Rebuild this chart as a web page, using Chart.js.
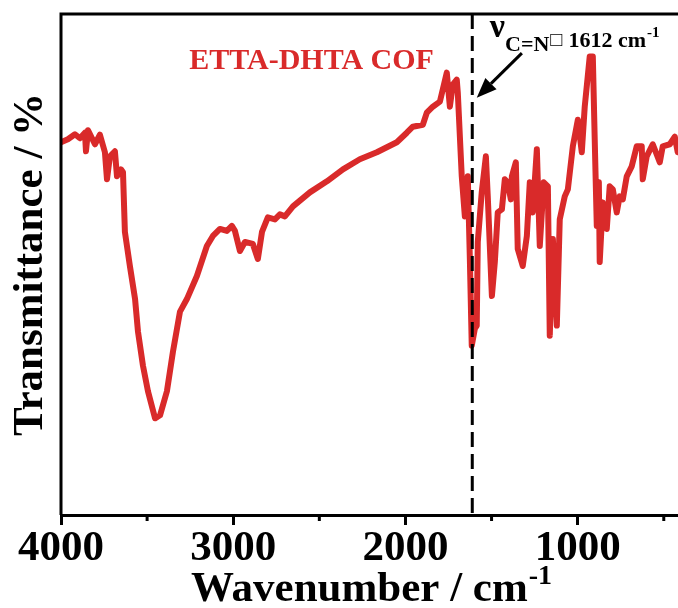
<!DOCTYPE html>
<html>
<head>
<meta charset="utf-8">
<script src="https://cdn.jsdelivr.net/npm/chart.js@4/dist/chart.umd.min.js"></script>
<style>
  html, body { margin: 0; padding: 0; background: #fff; overflow: hidden; }
  #wrap { width: 700px; height: 608px; }
</style>
</head>
<body>
<div id="wrap"><canvas id="ftir" width="700" height="608"></canvas></div>
<script>
// FTIR spectrum of ETTA-DHTA COF (arbitrary transmittance units)
const WAVENUMBER = [
    4000, 3960, 3919, 3890, 3861, 3855, 3843, 3803, 3774, 3745, 3733, 3716,
    3687, 3675, 3652, 3640, 3629, 3600, 3570, 3553, 3524, 3495,
    3454, 3425, 3385, 3350, 3309, 3269, 3211, 3153, 3118, 3077,
    3037, 3008, 2990, 2961, 2932, 2886, 2857, 2833, 2799, 2758,
    2729, 2700, 2653, 2555, 2456, 2363, 2265, 2166, 2050, 1992,
    1957, 1899, 1876, 1841, 1800, 1760, 1742, 1725, 1702, 1696,
    1673, 1655, 1638, 1626, 1615, 1597, 1586, 1580, 1557, 1533,
    1522, 1498, 1481, 1464, 1440, 1423, 1406, 1388, 1382, 1359,
    1348, 1319, 1295, 1278, 1261, 1237, 1220, 1197, 1173, 1162,
    1144, 1121, 1104, 1075, 1057, 1028, 999, 976, 959, 930,
    912, 901, 889, 877, 872, 854, 831, 814, 796, 773,
    756, 738, 715, 686, 657, 628, 622, 599, 564, 523,
    506, 465, 436, 419, 400
];
const TRANSMITTANCE = [
    74.4, 75.0, 76.0, 75.2, 76.3, 72.6, 76.8, 74.0, 75.9, 72.4, 67.0, 71.6,
    72.6, 67.6, 69.0, 68.4, 56.5, 49.7, 43.1, 36.6, 29.8, 24.7,
    19.3, 19.9, 24.7, 32.6, 40.6, 43.1, 47.7, 53.7, 55.7, 57.1,
    56.7, 57.7, 56.7, 52.7, 54.5, 54.1, 51.1, 56.5, 59.4, 59.0,
    60.0, 59.6, 61.6, 64.4, 66.6, 69.0, 71.0, 72.4, 74.4, 76.3,
    77.5, 77.9, 80.3, 81.5, 82.5, 88.3, 81.5, 85.9, 86.9, 84.3,
    67.6, 59.6, 67.6, 51.1, 33.8, 37.2, 37.8, 54.5, 64.4, 71.6,
    63.6, 43.7, 50.5, 60.4, 61.0, 67.0, 66.4, 63.0, 67.6, 70.4,
    53.1, 49.7, 55.7, 66.4, 60.4, 73.0, 53.7, 66.4, 65.6, 35.8,
    55.1, 37.8, 59.0, 63.6, 65.0, 73.6, 78.9, 72.4, 81.5, 91.5,
    91.5, 75.0, 57.7, 66.4, 50.5, 62.4, 57.1, 65.6, 65.0, 60.4,
    63.6, 63.0, 67.6, 69.6, 73.6, 73.6, 67.0, 71.6, 74.0, 70.4,
    73.6, 74.0, 75.5, 72.4, 74.0
];
const MAJOR_TICKS = [4000, 3000, 2000, 1000];
const MINOR_TICKS = [3500, 2500, 1500, 500];
const CN_PEAK = 1612;

const RED = '#d92a2a';
const SERIF = "'Liberation Serif', 'Times New Roman', serif";

const points = WAVENUMBER.map((wn, i) => ({ x: wn, y: TRANSMITTANCE[i] }));

// frame, minor ticks, x title, C=N marker and text labels
const decorations = {
    id: 'decorations',
    afterDatasetsDraw(chart) {
        const { ctx, chartArea: area, scales: { x, y } } = chart;
        ctx.save();

        // left and top frame lines
        ctx.strokeStyle = '#000';
        ctx.lineWidth = 3;
        ctx.beginPath();
        ctx.moveTo(area.left, area.bottom);
        ctx.lineTo(area.left, area.top);
        ctx.lineTo(area.right + 5, area.top);
        ctx.stroke();

        // minor ticks on the bottom axis
        MINOR_TICKS.forEach(v => {
            const px = x.getPixelForValue(v);
            ctx.beginPath();
            ctx.moveTo(px, area.bottom);
            ctx.lineTo(px, area.bottom + 6);
            ctx.stroke();
        });

        // dashed line at the C=N stretch
        const peakX = x.getPixelForValue(CN_PEAK);
        ctx.setLineDash([15, 7]);
        ctx.beginPath();
        ctx.moveTo(peakX, area.top);
        ctx.lineTo(peakX, area.bottom);
        ctx.stroke();
        ctx.setLineDash([]);

        // x axis title with superscript unit
        ctx.fillStyle = '#000';
        ctx.textAlign = 'left';
        ctx.textBaseline = 'alphabetic';
        ctx.font = `bold 43px ${SERIF}`;
        const main = 'Wavenumber / cm';
        const mainW = ctx.measureText(main).width;
        ctx.font = `bold 28px ${SERIF}`;
        const supW = ctx.measureText('-1').width;
        const sx = (x.getPixelForValue(4000) + x.getPixelForValue(400)) / 2 - (mainW + supW) / 2;
        ctx.font = `bold 43px ${SERIF}`;
        ctx.fillText(main, sx, 601);
        ctx.font = `bold 28px ${SERIF}`;
        ctx.fillText('-1', sx + mainW + 1, 584);

        // sample label
        ctx.fillStyle = RED;
        ctx.font = `bold 30px ${SERIF}`;
        ctx.textAlign = 'center';
        ctx.fillText('ETTA-DHTA COF', x.getPixelForValue(2545), y.getPixelForValue(89));

        // peak label: ν with C=N subscript, then the wavenumber
        ctx.fillStyle = '#000';
        ctx.textAlign = 'left';
        let tx = x.getPixelForValue(1510);
        const base = y.getPixelForValue(95.5);
        ctx.font = `bold 34px ${SERIF}`;
        ctx.fillText('ν', tx, base);
        tx += ctx.measureText('ν').width;
        ctx.font = `bold 22px ${SERIF}`;
        ctx.fillText('C=N', tx, base + 14);
        tx += ctx.measureText('C=N').width + 1;
        ctx.font = `20px ${SERIF}`;
        ctx.fillText('□', tx, base + 9);
        tx += ctx.measureText('□').width + 6;
        ctx.font = `bold 22px ${SERIF}`;
        ctx.fillText('1612 cm', tx, base + 10);
        tx += ctx.measureText('1612 cm').width + 1;
        ctx.font = `bold 15px ${SERIF}`;
        ctx.fillText('-1', tx, base);

        // arrow pointing at the dashed line
        const x0 = x.getPixelForValue(1324), y0 = y.getPixelForValue(92.2);
        const x1 = x.getPixelForValue(1586), y1 = y.getPixelForValue(83.3);
        const ang = Math.atan2(y1 - y0, x1 - x0);
        const head = 20, half = 8;
        const bx = x1 - head * Math.cos(ang), by = y1 - head * Math.sin(ang);
        ctx.lineWidth = 3;
        ctx.beginPath();
        ctx.moveTo(x0, y0);
        ctx.lineTo(bx, by);
        ctx.stroke();
        ctx.beginPath();
        ctx.moveTo(x1, y1);
        ctx.lineTo(bx + half * Math.sin(ang), by - half * Math.cos(ang));
        ctx.lineTo(bx - half * Math.sin(ang), by + half * Math.cos(ang));
        ctx.closePath();
        ctx.fill();

        ctx.restore();
    }
};

new Chart(document.getElementById('ftir').getContext('2d'), {
    type: 'line',
    data: {
        datasets: [{
            data: points,
            borderColor: RED,
            borderWidth: 6,
            borderJoinStyle: 'round',
            borderCapStyle: 'round',
            pointRadius: 0,
            tension: 0,
            fill: false
        }]
    },
    options: {
        responsive: false,
        animation: false,
        devicePixelRatio: 1,
        layout: { padding: { top: 14, right: 19, left: 0, bottom: 36 } },
        plugins: {
            legend: { display: false },
            tooltip: { enabled: false }
        },
        scales: {
            x: {
                type: 'linear',
                reverse: true,
                min: 400,
                max: 4000,
                afterBuildTicks: scale => {
                    scale.ticks = MAJOR_TICKS.map(v => ({ value: v }));
                },
                ticks: {
                    color: '#000',
                    padding: 2,
                    maxRotation: 0,
                    autoSkip: false,
                    callback: value => String(value),
                    font: { family: SERIF, size: 43, weight: 'bold', lineHeight: 1 }
                },
                grid: {
                    drawOnChartArea: false,
                    drawTicks: true,
                    tickLength: 10,
                    tickWidth: 3,
                    tickColor: '#000'
                },
                border: { display: true, color: '#000', width: 3 },
                title: { display: false }
            },
            y: {
                min: 0,
                max: 100,
                ticks: { display: false },
                grid: { display: false, drawTicks: false },
                border: { display: false },
                title: {
                    display: true,
                    text: 'Transmittance / %',
                    color: '#000',
                    padding: { top: 9, bottom: 9 },
                    font: { family: SERIF, size: 43, weight: 'bold', lineHeight: 1 }
                }
            }
        }
    },
    plugins: [decorations]
});
</script>
</body>
</html>
